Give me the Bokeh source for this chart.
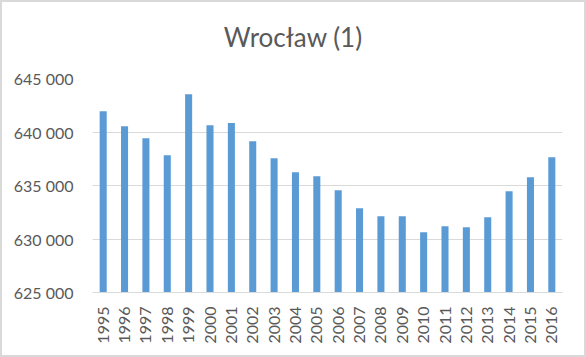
from math import pi
from bokeh.plotting import figure
from bokeh.layouts import column
from bokeh.models import ColumnDataSource, FactorRange, FixedTicker, Div, Range1d
from bokeh.embed import file_html
from bokeh.resources import INLINE

years = [str(y) for y in range(1995, 2017)]
population = [641950, 640540, 639420, 637830, 643530, 640640, 640850, 639140,
              637550, 636240, 635860, 634560, 632880, 632130, 632130, 630640,
              631200, 631100, 632040, 634460, 635770, 637640]
y_ticks = [625000, 630000, 635000, 640000, 645000]
y_tick_labels = ["625 000", "630 000", "635 000", "640 000", "645 000"]
title_text = "Wrocław (1)"

src = ColumnDataSource(dict(year=years, value=population))

title = Div(text=title_text, width=582, height=50, margin=0,
            styles={"text-align": "center", "font-family": "Lato",
                    "font-size": "26px", "color": "#595959",
                    "line-height": "30px", "padding-top": "20px",
                    "box-sizing": "border-box", "background": "white"})

p = figure(width=582, height=303, x_range=FactorRange(*years, range_padding=0.0),
           y_range=Range1d(625000, 645000), output_backend="svg",
           toolbar_location=None, min_border_left=90, min_border_right=22,
           min_border_top=26, min_border_bottom=63, margin=0)
p.background_fill_color = "white"
p.border_fill_color = "white"
p.outline_line_color = None

p.vbar(x="year", top="value", bottom=625000, width=0.33, source=src,
       fill_color="#5b9bd5", line_color=None)

p.x_range.factor_padding = 0.0
p.xaxis.major_label_orientation = pi / 2
p.xaxis.major_label_text_font = "Lato"
p.xaxis.major_label_text_font_size = "16px"
p.xaxis.major_label_text_color = "#595959"
p.xaxis.axis_line_color = "#d9d9d9"
p.xaxis.major_tick_line_color = None
p.xaxis.minor_tick_line_color = None
p.xaxis.major_label_standoff = 8

p.yaxis.ticker = FixedTicker(ticks=y_ticks)
p.yaxis.major_label_overrides = dict(zip(y_ticks, y_tick_labels))
p.yaxis.major_label_text_font = "Lato"
p.yaxis.major_label_text_font_size = "16px"
p.yaxis.major_label_text_color = "#595959"
p.yaxis.axis_line_color = None
p.yaxis.major_tick_line_color = None
p.yaxis.minor_tick_line_color = None
p.yaxis.major_label_standoff = 13

p.xgrid.grid_line_color = None
p.ygrid.grid_line_color = "#d9d9d9"
p.ygrid.ticker = FixedTicker(ticks=y_ticks)

layout = column(title, p, spacing=0, margin=0,
                styles={"border": "2px solid #d9d9d9", "background": "white"})

open("out.html", "w").write(file_html(layout, INLINE))
